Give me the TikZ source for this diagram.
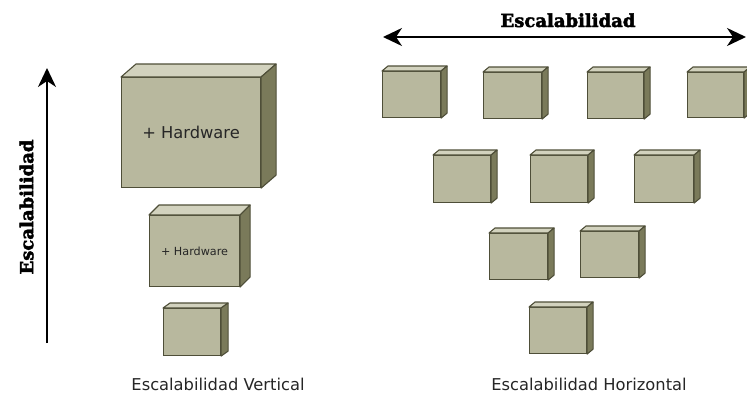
\documentclass[tikz,border=0pt]{standalone}
\usepackage{fontspec}
\newfontfamily\sansdv{DejaVu Sans}
\newfontfamily\serifdv{DejaVu Serif}[BoldFeatures={FakeBold=2.5}]
\usetikzlibrary{arrows.meta,calc}
\definecolor{frontc}{HTML}{B8B89E}
\definecolor{topc}{HTML}{D2D2BE}
\definecolor{sidec}{HTML}{7A7A5A}
\definecolor{edgec}{HTML}{4E4E38}
\tikzset{
  front/.style={draw=edgec, fill=frontc, line width=1.1pt, rectangle, inner sep=0pt, anchor=north west},
  facet/.style={draw=edgec, line width=1.1pt, line join=round},
  tipx/.tip={Stealth[length=19pt,width=18pt,inset=6pt]},
  arr/.style={line width=2.2pt, -tipx},
  darr/.style={line width=2.2pt, tipx-tipx},
  ttl/.style={font=\serifdv\bfseries\fontsize{18}{21}\selectfont, inner sep=0pt},
  lbl/.style={font=\sansdv\fontsize{16.3}{19}\selectfont, inner sep=0pt, anchor=base, text=black!85},
}
% name, left, top, width, height, dx, dy(up), text
\newcommand{\cubo}[8]{%
  \node[front, minimum width=#4pt, minimum height=#5pt] (#1) at (#2,#3) {};
  \draw[facet, fill=topc] (#1.north west) -- ($(#1.north west)+(#6,-#7)$) -- ($(#1.north east)+(#6,-#7)$) -- (#1.north east) -- cycle;
  \draw[facet, fill=sidec] (#1.north east) -- ($(#1.north east)+(#6,-#7)$) -- ($(#1.south east)+(#6,-#7)$) -- (#1.south east) -- cycle;
  \node[inner sep=0pt, text=black!85] (#1t) at (#1.center) {#8};
}
\begin{document}
\begin{tikzpicture}[x=1pt,y=-1pt]
\useasboundingbox (0,0) rectangle (747,394);
% vertical scaling
\cubo{vbig}{121}{77}{139}{110}{15}{13}{\raisebox{1pt}{\sansdv\fontsize{16.3}{19}\selectfont + Hardware}}
\cubo{vmid}{149}{215}{90}{71}{10}{10}{\sansdv\fontsize{11.2}{13}\selectfont + Hardware}
\cubo{vsml}{163}{308}{57}{47}{7}{5}{}
% horizontal scaling
\cubo{h1}{382}{71}{58}{46}{6}{5}{}
\cubo{h2}{483}{72}{58}{46}{6}{5}{}
\cubo{h3}{587}{72}{56}{46}{6}{5}{}
\cubo{h4}{687}{72}{56}{45}{6}{5}{}
\cubo{h5}{433}{155}{57}{47}{6}{5}{}
\cubo{h6}{530}{155}{57}{47}{6}{5}{}
\cubo{h7}{634}{155}{59}{47}{6}{5}{}
\cubo{h8}{489}{233}{58}{46}{6}{5}{}
\cubo{h9}{580}{231}{58}{46}{6}{5}{}
\cubo{h10}{529}{307}{57}{46}{6}{5}{}
% arrows
\coordinate (vA) at (47,343);
\coordinate (vB) at (47,68);
\draw[arr] (vA) -- (vB);
\coordinate (hA) at (383,37);
\coordinate (hB) at (746,37);
\draw[darr] (hA) -- (hB);
% labels
\node[ttl, anchor=base] (tH) at (568,27) {Escalabilidad};
\node[ttl, rotate=90] (tV) at (26.5,207) {Escalabilidad};
\node[lbl] (lV) at (218,390) {Escalabilidad Vertical};
\node[lbl] (lH) at (589,390) {Escalabilidad Horizontal};
\end{tikzpicture}
\end{document}
